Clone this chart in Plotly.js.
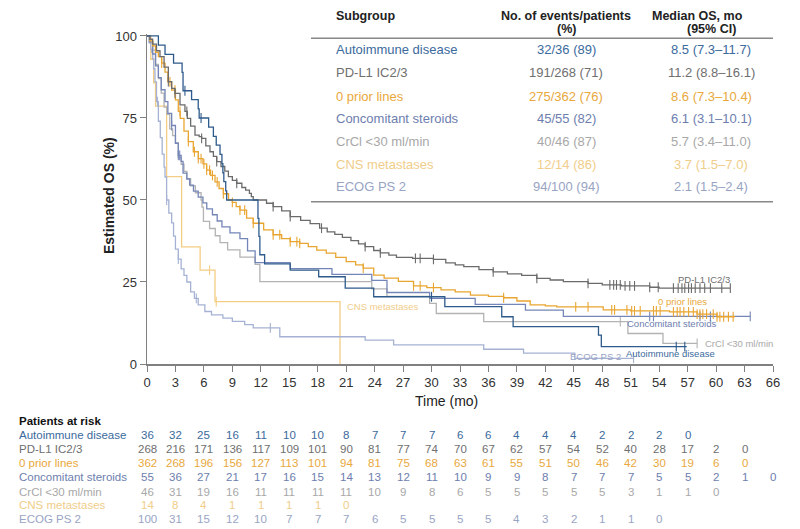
<!DOCTYPE html>
<html><head><meta charset="utf-8">
<script src="https://cdn.plot.ly/plotly-3.0.1.min.js"></script>
<style>html,body{margin:0;padding:0;background:#fff}#chart{width:800px;height:529px}</style>
</head><body><div id="chart"></div>
<script>
// ---------- Kaplan-Meier step data (time in months, survival %) ----------
const autoT = [0,1.2,1.9,2.8,3.7,3.8,4.7,5.4,5.5,6.5,7.0,7.3,7.7,7.9,8.0,8.1,8.3,8.4,11.7,11.8,11.9,12.4,15.1,18.1,20.9,23.9,31.4,37.4,38.6,47.6,47.9];
const autoS = [100,97.2,94.4,91.7,88.9,83.3,80.6,77.8,75.0,72.2,69.4,66.7,63.9,61.1,58.3,55.6,52.8,50.0,44.4,38.9,33.3,30.5,28.6,26.6,23.1,20.5,17.5,14.4,11.4,8.8,5.3];
const autoEnd = 56.9;
const autoCens = [4.0,5.7,30.0,55.8,56.7];

const pdT = [0,0.3,0.6,1.0,1.37,1.8,2.25,2.6,2.95,3.48,4.0,4.25,4.6,5.06,5.5,5.76,6.2,6.64,7.0,7.35,7.8,8.2,8.58,9.0,9.46,10.0,10.4,10.8,11.0,11.2,12.6,13.3,14.2,15.1,16.2,17.2,18.2,19.0,19.8,20.6,21.5,22.3,23.0,23.9,24.6,25.5,26.3,28.0,30.2,31.5,32.5,33.4,35.0,36.5,38.0,39.5,41.1,42.5,43.9,46.5,48.0,50.0,53.0,54.0];
const pdS = [100,99,97.5,95.5,93.7,90.5,86.1,84,82.5,79,77,74.9,72.5,69.8,69.3,68.8,66.5,64.7,63.3,61.7,60.2,58.8,57.1,56.0,55.1,53.8,53,52,51,50,49,48,46.7,44.9,43.8,42.8,41.4,40.3,39.5,38.6,37.6,36.6,35.8,34.6,33.9,33.2,32.5,32.2,31.9,30.8,30.2,29.7,28.8,28.1,27.5,27.0,26.1,25.6,25.1,24.6,24.1,23.8,23.4,23.1];
const pdEnd = 61.5;
const pdCens = [2.25,2.95,4.2,5.76,7.35,9.46,13.3,15.1,18.4,23.0,24.6,28.3,28.8,30.2,36.5,41.1,46.5,48.8,49.2,49.5,49.9,50.4,50.9,51.4,53.0,53.9,55.5,56.0,56.4,56.7,57.1,57.4,57.8,58.3,58.8,59.4,60.6,61.5];

const priorT = [0,0.3,0.6,0.9,1.2,1.55,1.9,2.2,2.6,3.0,3.3,3.5,3.9,4.36,4.88,5.41,5.9,6.29,6.7,7.17,7.6,8.05,8.6,9.0,9.4,9.8,10.5,11.2,12.3,13.3,14.2,15.1,16.1,17.0,17.9,18.9,19.9,21.0,22.0,22.8,23.9,25.0,26.5,28.1,29.5,31.0,32.5,34.1,36.0,37.6,39.0,40.4,42.0,43.2,48.1,51.0,55.1,58.0,60.1];
const priorS = [100,98.5,97,95,93.7,91.7,89,86,83.5,80.5,77,74.9,71,67.8,64.7,62.6,61,59.1,57.5,55.5,53.5,51.9,50.0,49.3,48,46.9,44.5,42.9,40.9,39.4,38.2,37.3,36.8,35.8,34.7,33.8,32.5,31.2,30.2,29.2,27.1,26.2,25.2,23.8,23.3,22.6,22.0,21.0,20.6,20.2,19.2,18.0,17.7,17.4,16.5,16.2,15.9,15.2,14.4];
const priorEnd = 62.0;
const priorCens = [1.55,2.42,2.95,3.48,4.36,5.0,5.41,5.7,6.0,6.29,6.6,6.9,7.4,8.05,9.0,9.8,10.3,11.2,13.3,14.0,15.1,15.8,16.1,22.8,28.1,28.8,30.2,37.6,45.2,46.5,49.0,49.3,50.6,51.1,51.4,52.0,53.4,53.7,54.1,55.5,55.9,56.2,56.6,57.1,57.6,58.0,58.3,58.6,59.0,59.7,60.1,60.4,60.8,61.3,61.8];

const concT = [0,0.3,0.6,0.9,1.2,1.5,1.9,2.2,2.6,3.0,3.3,3.6,3.8,4.2,4.5,4.9,5.4,5.9,6.3,6.9,7.4,7.9,8.75,9.8,10.6,11.4,15.1,19.5,23.7,25.3,29.8,34.6,39.9,43.9];
const concS = [100,98.2,94.5,90.9,87.3,83.6,80.0,76.4,72.7,67.3,63.6,61.8,58.2,56.4,54.5,52.7,50.9,49.1,47.3,45.5,43.6,41.8,40.0,38.2,34.5,30.9,29.1,27.3,25.5,21.8,20.0,18.2,16.4,14.5];
const concEnd = 63.6;
const concCens = [2.6,3.3,3.45,53.0,53.4,58.3,59.4,63.6];

const crclT = [0,0.3,0.6,0.9,1.2,1.5,1.8,2.1,2.4,2.7,3.0,3.3,3.6,3.9,4.2,4.6,5.1,5.7,5.8,5.95,6.6,7.2,7.7,8.5,9.8,11.4,11.9,23.7,25.3,29.8,30.5,35.5,50.7,54.4];
const crclS = [100,97.8,95.7,91.3,87.0,82.6,78.3,76.1,71.7,69.6,67.4,63.0,60.9,58.7,56.5,54.3,52.2,50.0,47.8,43.5,41.3,39.1,37.0,34.8,32.6,30.4,25.1,22.9,20.6,18.5,15.4,12.9,9.3,6.3];
const crclEnd = 58.0;
const crclCens = [49.9,58.0];

const cnsT = [0,0.4,0.7,0.9,2.07,3.65,5.6,7.17,20.35];
const cnsS = [100,92.9,85.7,78.6,57.1,35.7,28.6,19.0,0];
const cnsEnd = 20.35;
const cnsCens = [6.6,7.3];

const ecogT = [0,0.2,0.4,0.5,0.6,0.7,0.84,1.0,1.2,1.4,1.6,1.8,1.9,2.07,2.3,2.6,2.8,3.0,3.3,3.6,3.9,4.2,4.6,5.0,5.4,6.1,6.8,8.0,9.0,10.3,11.2,14.0,23.0,26.0,35.5,39.7,45.1];
const ecogS = [100,98,96,95,93,90,86,80,74,69,64,60,57,50,46,43,39,35,32,29,27,25,22,20,18,16,15,14,13,12,11,8.3,7.3,5.8,4.5,3.3,1.7];
const ecogEnd = 51.3;
const ecogCens = [1.1,2.07,3.3,5.2,13.0,51.3];

// ---------- Summary table ----------
const subgroups = ["Autoimmune disease","PD-L1 IC2/3","0 prior lines","Concomitant steroids","CrCl &lt;30 ml/min","CNS metastases","ECOG PS 2"];
const eventsTxt = ["32/36 (89)","191/268 (71)","275/362 (76)","45/55 (82)","40/46 (87)","12/14 (86)","94/100 (94)"];
const medianTxt = ["8.5 (7.3–11.7)","11.2 (8.8–16.1)","8.6 (7.3–10.4)","6.1 (3.1–10.1)","5.7 (3.4–11.0)","3.7 (1.5–7.0)","2.1 (1.5–2.4)"];

// ---------- Patients at risk (every 3 months from 0) ----------
const riskAuto  = [36,32,25,16,11,10,10,8,7,7,7,6,6,4,4,4,2,2,2,0];
const riskPd    = [268,216,171,136,117,109,101,90,81,77,74,70,67,62,57,54,52,40,28,17,2,0];
const riskPrior = [362,268,196,156,127,113,101,94,81,75,68,63,61,55,51,50,46,42,30,19,6,0];
const riskConc  = [55,36,27,21,17,16,15,14,13,12,11,10,9,9,8,7,7,7,5,5,2,1,0];
const riskCrcl  = [46,31,19,16,11,11,11,11,10,9,8,6,5,5,5,5,5,3,1,1,0];
const riskCns   = [14,8,4,1,1,1,1,0];
const riskEcog  = [100,31,15,12,10,7,7,7,6,5,5,5,5,4,3,2,1,1,0];

const colors = ['#2e5b8c','#6b6b6b','#e9a531','#7486b8','#b3b3b3','#f4cd84','#a5b2d4'];
const textColors = ['#3b6a9c','#6f6f6f','#e8a83c','#6d7eae','#a8a8a8','#f0cd8a','#98a4c4'];

const groups = [
  {t:autoT,s:autoS,end:autoEnd,c:autoCens,risk:riskAuto},
  {t:pdT,s:pdS,end:pdEnd,c:pdCens,risk:riskPd},
  {t:priorT,s:priorS,end:priorEnd,c:priorCens,risk:riskPrior},
  {t:concT,s:concS,end:concEnd,c:concCens,risk:riskConc},
  {t:crclT,s:crclS,end:crclEnd,c:crclCens,risk:riskCrcl},
  {t:cnsT,s:cnsS,end:cnsEnd,c:cnsCens,risk:riskCns},
  {t:ecogT,s:ecogS,end:ecogEnd,c:ecogCens,risk:riskEcog}
];

function sAt(ts, ss, t){ let v = ss[0]; for (let i=0;i<ts.length;i++){ if (ts[i] <= t) v = ss[i]; } return v; }

const FONT = 'Liberation Sans, Arial, Helvetica, sans-serif';
const drawOrder = [5,6,4,3,2,1,0];
const traces = [];
drawOrder.forEach(i => {
  const g = groups[i];
  const x = g.t.slice(), y = g.s.slice();
  if (g.end > x[x.length-1]) { x.push(g.end); y.push(y[y.length-1]); }
  traces.push({x, y, type:'scatter', mode:'lines', line:{shape:'hv', color:colors[i], width:1.3}, hoverinfo:'skip'});
  traces.push({x:g.c, y:g.c.map(t => sAt(g.t, g.s, t)), type:'scatter', mode:'markers', cliponaxis:false,
    marker:{symbol:'line-ns-open', size:7, color:colors[i], line:{width:1.1, color:colors[i]}}, hoverinfo:'skip'});
});

// pixel -> paper helpers
const PL=147, PW=626, PT=34, PH=330;
const px = x => (x-PL)/PW;
const py = y => (PT+PH-y)/PH;

function A(o){ return Object.assign({xanchor:'center', yanchor:'middle', showarrow:false}, o); }

const ann = [];
// axis titles
ann.push(A({x:px(109), y:py(196), xref:'paper', yref:'paper', text:'Estimated OS (%)', textangle:-90,
  font:{family:FONT, size:14, color:'#222', weight:'bold'}}));
ann.push(A({x:px(446), y:py(401), xref:'paper', yref:'paper', text:'Time (mo)',
  font:{family:FONT, size:14, color:'#222'}}));

// table headers
const hf = {family:FONT, size:12.5, color:'#222', weight:'bold'};
ann.push(A({x:px(334), y:py(16), xref:'paper', yref:'paper', xanchor:'left', text:'Subgroup', font:hf}));
ann.push(A({x:px(566), y:py(16), xref:'paper', yref:'paper', text:'No. of events/patients', font:hf}));
ann.push(A({x:px(566), y:py(29), xref:'paper', yref:'paper', text:'(%)', font:hf}));
ann.push(A({x:px(697), y:py(16), xref:'paper', yref:'paper', text:'Median OS, mo', font:hf}));
ann.push(A({x:px(711), y:py(29), xref:'paper', yref:'paper', text:'(95% CI)', font:hf}));
const rowY = [50,72.7,96,118.3,141.7,164,186.7];
subgroups.forEach((sg,i) => {
  const f = {family:FONT, size:13, color:textColors[i]};
  ann.push(A({x:px(334), y:py(rowY[i]), xref:'paper', yref:'paper', xanchor:'left', text:sg, font:f}));
  ann.push(A({x:px(566), y:py(rowY[i]), xref:'paper', yref:'paper', text:eventsTxt[i], font:f}));
  ann.push(A({x:px(711), y:py(rowY[i]), xref:'paper', yref:'paper', text:medianTxt[i], font:f}));
});

// curve labels
const curveLabels = [
  {i:1, x:61.7, y:25.9, a:'right', t:'PD-L1 IC2/3'},
  {i:2, x:59.2, y:19.0, a:'right', t:'0 prior lines'},
  {i:3, x:60.2, y:12.2, a:'right', t:'Concomitant steroids'},
  {i:4, x:58.6, y:6.3, a:'left', t:'CrCl &lt;30 ml/min'},
  {i:0, x:60.1, y:3.3, a:'right', t:'Autoimmune disease'},
  {i:6, x:50.2, y:2.2, a:'right', t:'ECOG PS 2'},
  {i:5, x:20.9, y:17.5, a:'left', t:'CNS metastases'}
];
curveLabels.forEach(l => ann.push(A({x:l.x, y:l.y, xref:'x', yref:'y', xanchor:l.a, text:l.t,
  font:{family:FONT, size:9.5, color:textColors[l.i]}})));

// patients at risk
ann.push(A({x:px(16.7), y:py(421), xref:'paper', yref:'paper', xanchor:'left', text:'Patients at risk',
  font:{family:FONT, size:11.5, color:'#111', weight:'bold'}}));
const riskY = [435,449,463.3,477,491.7,505,519.3];
groups.forEach((g,i) => {
  const f = {family:FONT, size:11.5, color:textColors[i]};
  ann.push(A({x:px(16.7), y:py(riskY[i]), xref:'paper', yref:'paper', xanchor:'left', text:subgroups[i], font:f}));
  g.risk.forEach((n,k) => ann.push(A({x:k*3, xref:'x', y:py(riskY[i]), yref:'paper', text:String(n), font:f})));
});

const shapes = [
  {type:'line', xref:'paper', yref:'paper', x0:px(311), x1:px(773), y0:py(38.3), y1:py(38.3), line:{color:'#888', width:1.5}},
  {type:'line', xref:'paper', yref:'paper', x0:px(311), x1:px(773), y0:py(201.7), y1:py(201.7), line:{color:'#888', width:1.5}}
];

const axisCommon = {showgrid:false, zeroline:false, showline:true, linecolor:'#808080', linewidth:1.5,
  ticks:'outside', ticklen:6, tickcolor:'#808080', tickwidth:1, tickfont:{family:FONT, size:13, color:'#333'}, fixedrange:true};

const layout = {
  width:800, height:529, margin:{l:PL, r:800-PL-PW, t:PT, b:529-PT-PH},
  paper_bgcolor:'#fff', plot_bgcolor:'#fff', showlegend:false,
  xaxis:Object.assign({}, axisCommon, {range:[0,66], tickmode:'linear', tick0:0, dtick:3}),
  yaxis:Object.assign({}, axisCommon, {range:[0,100.6], tickvals:[0,25,50,75,100]}),
  annotations:ann, shapes:shapes, font:{family:FONT}
};
Plotly.newPlot('chart', traces, layout, {displayModeBar:false, staticPlot:true});
</script></body></html>
